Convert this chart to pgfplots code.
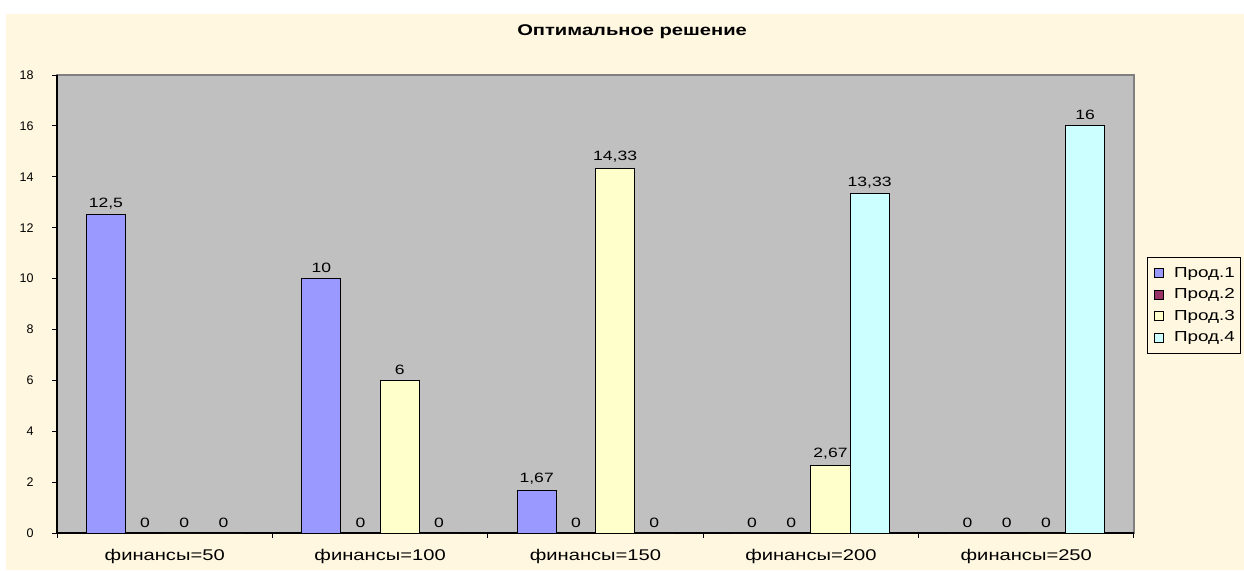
\documentclass[border=0pt]{standalone}
\usepackage{fontspec}
\setmainfont{Liberation Sans}[FakeStretch=1.3]
\newfontfamily\tickfont{Liberation Sans}
\usepackage{pgfplots}
\pgfplotsset{compat=1.18}
\definecolor{bgY}{HTML}{FFF7E0}
\definecolor{plotG}{HTML}{C0C0C0}
\definecolor{borderG}{HTML}{808080}
\definecolor{cA}{HTML}{9999FF}
\definecolor{cB}{HTML}{993366}
\definecolor{cC}{HTML}{FFFFCC}
\definecolor{cD}{HTML}{CCFFFF}
\begin{document}
\begin{tikzpicture}
\fill[white] (0pt,0pt) rectangle (1244pt,-570pt);
\fill[bgY] (6pt,-14pt) rectangle (1244pt,-570pt);
\begin{axis}[
  at={(57pt,-533pt)}, anchor=south west,
  scale only axis, width=1077pt, height=458pt,
  ybar=0pt, bar width=39.2pt,
  xmin=-0.5, xmax=4.5, ymin=0, ymax=18,
  ytick={0,2,...,18},
  xtick={-0.5,0.5,...,4.5},
  xticklabels={,,,,,},
  extra x ticks={0,1,2,3,4},
  extra x tick labels={финансы=50,финансы=100,финансы=150,финансы=200,финансы=250},
  extra x tick style={major tick length=0pt},
  axis x line*=bottom, axis y line*=left,
  axis line style={-, black, line width=1.2pt},
  axis background/.style={fill=plotG, draw=borderG, line width=1.5pt},
  tick align=outside, major tick length=5pt,
  tick style={black, line width=1pt},
  yticklabel style={font=\tickfont\fontsize{12.5}{15}\selectfont, xshift=-15pt},
  xticklabel style={font=\fontsize{15.5}{18}\selectfont, yshift=-13pt},
  title={\bfseries Оптимальное решение},
  title style={at={(axis description cs:0.534,1.059)}, font=\fontsize{15.5}{18}\selectfont},
  nodes near coords,
  every node near coord/.append style={font=\fontsize{13.5}{16}\selectfont, black, yshift=2pt},
  legend style={at={(axis description cs:1.0121,0.6026)}, anchor=north west, draw=black, fill=bgY,
    font=\fontsize{14.5}{17}\selectfont, row sep=6pt, inner xsep=3pt, inner ysep=8pt,
    cells={anchor=west, inner xsep=2pt},
    /tikz/every odd column/.append style={column sep=8pt}},
  legend image code/.code={\path (0pt,0pt); \draw[#1, draw=black, line width=0.8pt] (4pt,-4.5pt) rectangle (13pt,4.5pt);},
  /pgf/number format/use comma,
  /pgf/number format/assume math mode=true,
]
\addplot[fill=cA, draw=black, line width=1pt] coordinates {(0,12.5) (1,10) (2,1.67) (3,0) (4,0)};
\addplot[fill=cB, draw=black, line width=1pt] coordinates {(0,0) (1,0) (2,0) (3,0) (4,0)};
\addplot[fill=cC, draw=black, line width=1pt] coordinates {(0,0) (1,6) (2,14.33) (3,2.67) (4,0)};
\addplot[fill=cD, draw=black, line width=1pt] coordinates {(0,0) (1,0) (2,0) (3,13.33) (4,16)};
\legend{Прод.1,Прод.2,Прод.3,Прод.4}
\end{axis}
\end{tikzpicture}
\end{document}
